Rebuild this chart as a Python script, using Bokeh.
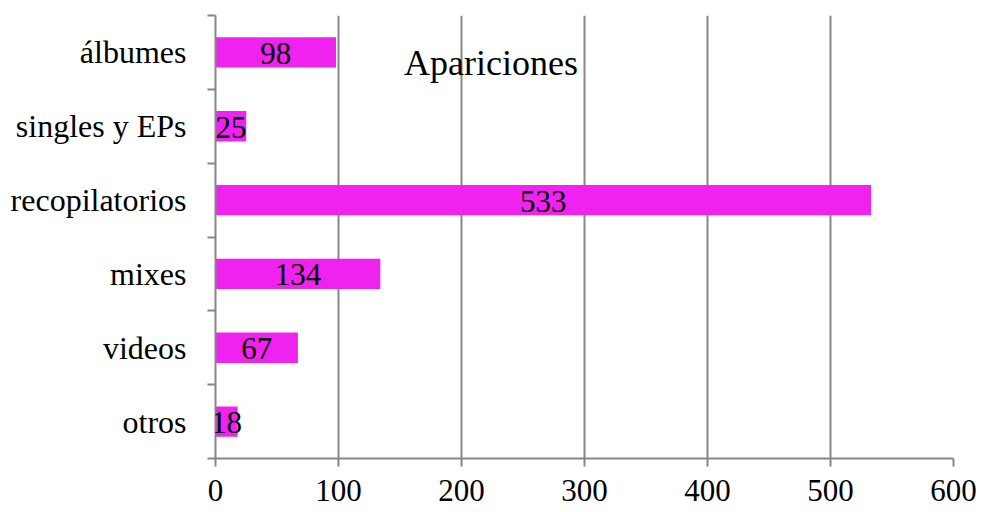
from bokeh.plotting import figure
from bokeh.models import ColumnDataSource, FixedTicker, Range1d, Label, LabelSet
from bokeh.embed import file_html
from bokeh.resources import INLINE

categories = ["álbumes", "singles y EPs", "recopilatorios", "mixes", "videos", "otros"]
values = [98, 25, 533, 134, 67, 18]
x_ticks = [0, 100, 200, 300, 400, 500, 600]
title_text = "Apariciones"

n = len(categories)
# bottom-to-top positions: first category at top
ypos = [n - i - 0.5 for i in range(n)]
src = ColumnDataSource(dict(y=ypos, v=values, lbl=[str(v) for v in values],
                            xc=[v / 2 for v in values]))

FONT = "Liberation Serif"
GRAY = "#878787"

p = figure(width=981, height=512, output_backend="svg", toolbar_location=None,
           x_range=Range1d(0, 600), y_range=Range1d(0, n),
           min_border_left=215, min_border_right=28, min_border_top=15, min_border_bottom=54)
p.outline_line_color = None
p.background_fill_color = "white"
p.border_fill_color = "white"

p.hbar(y="y", right="v", left=0, height=0.41, source=src, color="#EF22EF", line_color=None)

labels = LabelSet(x="xc", y="y", text="lbl", source=src, text_align="center",
                  text_baseline="middle", text_font=FONT, text_font_size="31px",
                  text_color="black", y_offset=-1)
p.add_layout(labels)

# x axis
xa = p.xaxis[0]
xa.ticker = FixedTicker(ticks=x_ticks, minor_ticks=[])
xa.axis_line_color = GRAY
xa.axis_line_width = 2
xa.major_tick_line_color = GRAY
xa.major_tick_line_width = 2
xa.major_tick_out = 8
xa.major_tick_in = 0
xa.major_label_text_font = FONT
xa.major_label_text_font_size = "31px"
xa.major_label_text_color = "black"
xa.major_label_standoff = 13

# y axis
ya = p.yaxis[0]
ya.ticker = FixedTicker(ticks=ypos, minor_ticks=list(range(n + 1)))
ya.major_label_overrides = {y: c for y, c in zip(ypos, categories)}
ya.axis_line_color = GRAY
ya.axis_line_width = 2
ya.major_tick_line_color = None
ya.major_tick_out = 0
ya.major_tick_in = 0
ya.minor_tick_line_color = GRAY
ya.minor_tick_line_width = 2
ya.minor_tick_out = 8
ya.minor_tick_in = 0
ya.major_label_text_font = FONT
ya.major_label_text_font_size = "32px"
ya.major_label_text_color = "black"
ya.major_label_standoff = 21

p.ygrid.grid_line_color = None
p.xgrid.ticker = FixedTicker(ticks=x_ticks[1:])
p.xgrid.grid_line_color = GRAY
p.xgrid.grid_line_width = 2

title = Label(x=224, y=5.36, text=title_text, text_font=FONT, text_font_size="36px",
              text_align="center", text_baseline="middle", text_color="black")
p.add_layout(title)

open("out.html", "w").write(file_html(p, INLINE))
